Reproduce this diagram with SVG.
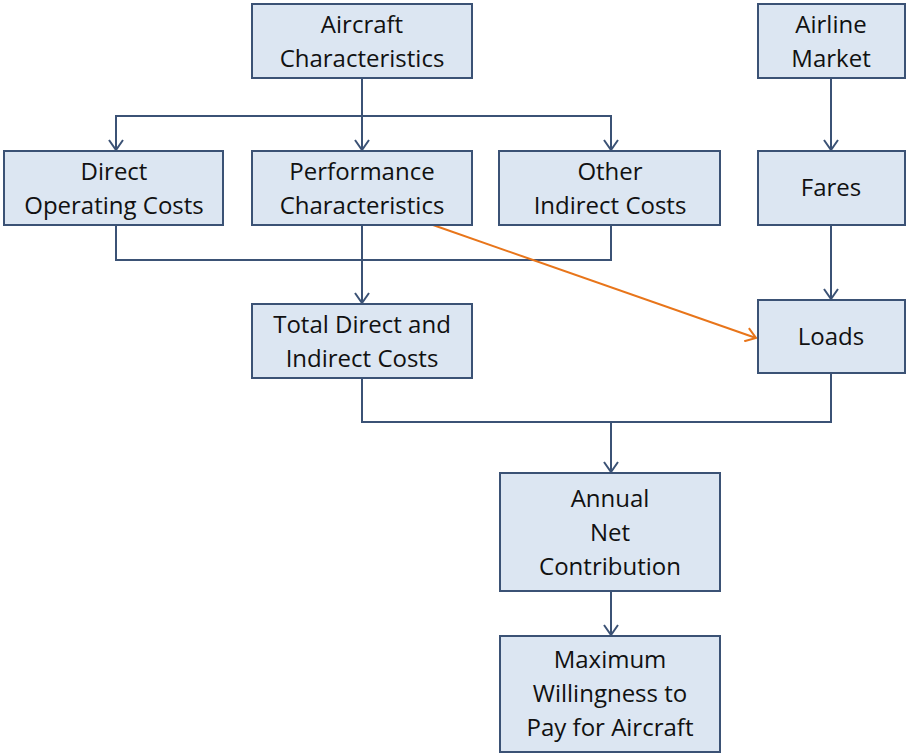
<svg xmlns="http://www.w3.org/2000/svg" width="907" height="753" viewBox="0 0 907 753">
<defs>
<style>
.box{fill:#dce6f2;stroke:#3b5275;stroke-width:2}
.t{font-family:"Open Sans","Liberation Sans",sans-serif;font-size:24px;fill:#111;text-anchor:middle}
.c{fill:none;stroke:#3b5275;stroke-width:2}
.o{fill:none;stroke:#e8751a;stroke-width:2}
</style>
<marker id="a" markerWidth="16" markerHeight="16" refX="14" refY="8" orient="auto" markerUnits="userSpaceOnUse" viewBox="0 0 16 16">
<path d="M4 1 L14 8 L4 15" fill="none" stroke="#3b5275" stroke-width="2"/>
</marker>
<marker id="ao" markerWidth="16" markerHeight="16" refX="14" refY="8" orient="auto" markerUnits="userSpaceOnUse" viewBox="0 0 16 16">
<path d="M4 1 L14 8 L4 15" fill="none" stroke="#e8751a" stroke-width="2"/>
</marker>
</defs>
<rect width="907" height="753" fill="#fff"/>
<g id="connectors">
<path class="c" d="M362 78 V150" marker-end="url(#a)"/>
<path class="c" d="M116 150 V116 H611 V150" marker-end="url(#a)"/>
<path class="c" d="M116 116 V150" marker-end="url(#a)"/>
<path class="c" d="M116 225 V260 H611 V225"/>
<path class="c" d="M362 225 V303" marker-end="url(#a)"/>
<path class="c" d="M831 78 V150" marker-end="url(#a)"/>
<path class="c" d="M831 225 V299" marker-end="url(#a)"/>
<path class="c" d="M362 378 V422 H831 V373"/>
<path class="c" d="M611 422 V472" marker-end="url(#a)"/>
<path class="c" d="M611 591 V635" marker-end="url(#a)"/>
<path class="o" d="M433 225 L756 338" marker-end="url(#ao)"/>
</g>
<g id="aircraft"><rect class="box" x="252" y="4" width="220" height="74"/><text class="t" x="362" y="33">Aircraft</text><text class="t" x="362" y="67">Characteristics</text></g>
<g id="market"><rect class="box" x="758" y="4" width="147" height="74"/><text class="t" x="831" y="33">Airline</text><text class="t" x="831" y="67">Market</text></g>
<g id="doc"><rect class="box" x="4" y="151" width="219" height="74"/><text class="t" x="114" y="180">Direct</text><text class="t" x="114" y="214">Operating Costs</text></g>
<g id="perf"><rect class="box" x="252" y="151" width="220" height="74"/><text class="t" x="362" y="180">Performance</text><text class="t" x="362" y="214">Characteristics</text></g>
<g id="oic"><rect class="box" x="499" y="151" width="221" height="74"/><text class="t" x="610" y="180">Other</text><text class="t" x="610" y="214">Indirect Costs</text></g>
<g id="fares"><rect class="box" x="758" y="151" width="147" height="74"/><text class="t" x="831" y="196">Fares</text></g>
<g id="total"><rect class="box" x="252" y="304" width="220" height="74"/><text class="t" x="362" y="333">Total Direct and</text><text class="t" x="362" y="367">Indirect Costs</text></g>
<g id="loads"><rect class="box" x="758" y="300" width="147" height="73"/><text class="t" x="831" y="345">Loads</text></g>
<g id="anc"><rect class="box" x="500" y="473" width="220" height="118"/><text class="t" x="610" y="507">Annual</text><text class="t" x="610" y="541">Net</text><text class="t" x="610" y="575">Contribution</text></g>
<g id="mwp"><rect class="box" x="500" y="636" width="220" height="116"/><text class="t" x="610" y="668">Maximum</text><text class="t" x="610" y="702">Willingness to</text><text class="t" x="610" y="736">Pay for Aircraft</text></g>
</svg>
